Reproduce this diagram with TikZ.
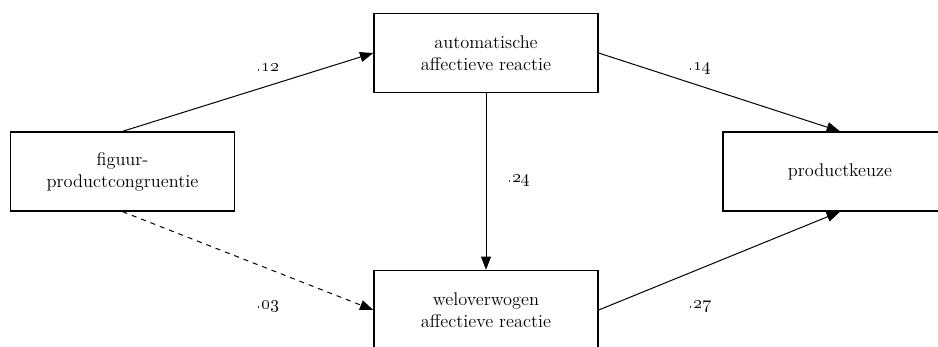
\documentclass[tikz,border=0pt]{standalone}
\usepackage{tikz}
\usetikzlibrary{arrows.meta}
\tikzset{
  varbox/.style={draw, thick, fill=white, minimum width=134.4pt, minimum height=47.4pt,
    align=center, inner sep=0pt, font=\fontsize{11}{13.2}\selectfont},
  pathlbl/.style={font=\fontsize{11}{13.2}\selectfont},
  effect/.style={-{Triangle[length=8pt,width=6pt]}, semithick},
}

\begin{document}
\begin{tikzpicture}[x=0.6pt, y=-0.6pt]
\useasboundingbox (0,0) rectangle (938,346);
\node[varbox] (fig) at (122.5,171.5) {figuur-\\productcongruentie};
\node[varbox] (auto) at (486,53) {automatische\\affectieve reactie};
\node[varbox] (wel) at (486,310) {weloverwogen\\affectieve reactie};
\node[varbox, minimum width=140.4pt] (keuze) at (840,171.5) {productkeuze};
\draw[effect] (fig.north) -- (auto.west);
\draw[effect, dashed] (fig.south) -- (wel.west);
\draw[effect] (auto.south) -- (wel.north);
\draw[effect] (auto.east) -- (keuze.north);
\draw[effect] (wel.east) -- (keuze.south);
\node[pathlbl] (b12) at (268,68) {\oldstylenums{.12}};
\node[pathlbl] (b14) at (700,68) {\oldstylenums{.14}};
\node[pathlbl] (b24) at (519,180) {\oldstylenums{.24}};
\node[pathlbl] (b03) at (268,306) {\oldstylenums{.03}};
\node[pathlbl] (b27) at (700,306) {\oldstylenums{.27}};
\end{tikzpicture}
\end{document}
